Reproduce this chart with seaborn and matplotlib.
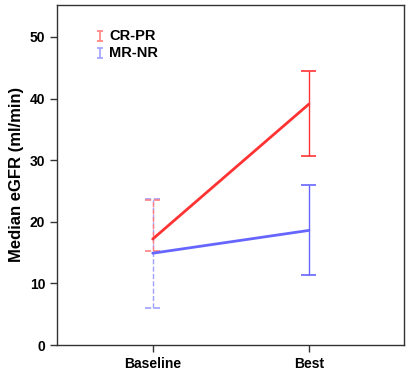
import seaborn as sns
import matplotlib.pyplot as plt
import pandas as pd

# values
timepoints = ["Baseline", "Best"]
groups = ["CR-PR", "MR-NR"]
crpr_median = [17.2, 39.1]
crpr_low = [15.3, 30.6]
crpr_high = [23.5, 44.4]
mrnr_median = [14.9, 18.6]
mrnr_low = [6.05, 11.4]
mrnr_high = [23.7, 26.0]

colors = {"CR-PR": "#ff3333", "MR-NR": "#6666ff"}
light = {"CR-PR": "#ff8080", "MR-NR": "#a0a0ff"}

sns.set_style("ticks")
plt.rcParams['font.family'] = ['Liberation Sans', 'DejaVu Sans']
plt.rcParams['text.color'] = 'black'
plt.rcParams['axes.labelcolor'] = 'black'

df = pd.DataFrame({
    "pos": [0, 1, 0, 1],
    "median": crpr_median + mrnr_median,
    "group": ["CR-PR"] * 2 + ["MR-NR"] * 2,
})

fig, ax = plt.subplots(figsize=(4.08, 3.73), dpi=100)
fig.subplots_adjust(left=0.14, right=0.99, bottom=0.075, top=0.987)

sns.lineplot(data=df, x="pos", y="median", hue="group", palette=colors,
             linewidth=2, legend=False, ax=ax, zorder=3)

bounds = {"CR-PR": (crpr_median, crpr_low, crpr_high),
          "MR-NR": (mrnr_median, mrnr_low, mrnr_high)}
for g in groups[::-1]:
    med, lo, hi = bounds[g]
    for i in range(len(timepoints)):
        style = "--" if i == 0 else "-"
        col = light[g] if i == 0 else colors[g]
        ax.vlines(i, lo[i], hi[i], colors=col, linestyles=style, linewidth=1, zorder=2)
        ax.hlines([lo[i], hi[i]], i - 0.048, i + 0.048, colors=col, linestyles=style,
                  linewidth=1.2, zorder=2)

# legend with error bar glyphs
for k, g in enumerate(groups):
    yy = 50.2 - k * 2.8
    ax.errorbar(-0.337, yy, yerr=0.8, color=light[g], capsize=2.2, linewidth=1.2,
                capthick=1.2)
    ax.text(-0.28, yy, g, fontsize=10.5, fontweight="bold", va="center", ha="left")

ax.set_xlim(-0.612, 1.608)
ax.set_ylim(0, 55.2)
ax.set_xticks(range(len(timepoints)))
ax.set_xticklabels(timepoints, fontweight="bold", fontsize=10)
ax.set_yticks([0, 10, 20, 30, 40, 50])
ax.set_yticklabels(["0", "10", "20", "30", "40", "50"], fontweight="bold", fontsize=10)
ax.set_xlabel("")
ax.set_ylabel("Median eGFR (ml/min)", fontweight="bold", fontsize=12, color="black")
ax.tick_params(direction="out", length=5, width=1, colors="#333333", labelcolor="black")
for s in ax.spines.values():
    s.set_visible(True)
    s.set_color("#333333")
    s.set_linewidth(1)

fig.savefig("out.png", dpi=100)
